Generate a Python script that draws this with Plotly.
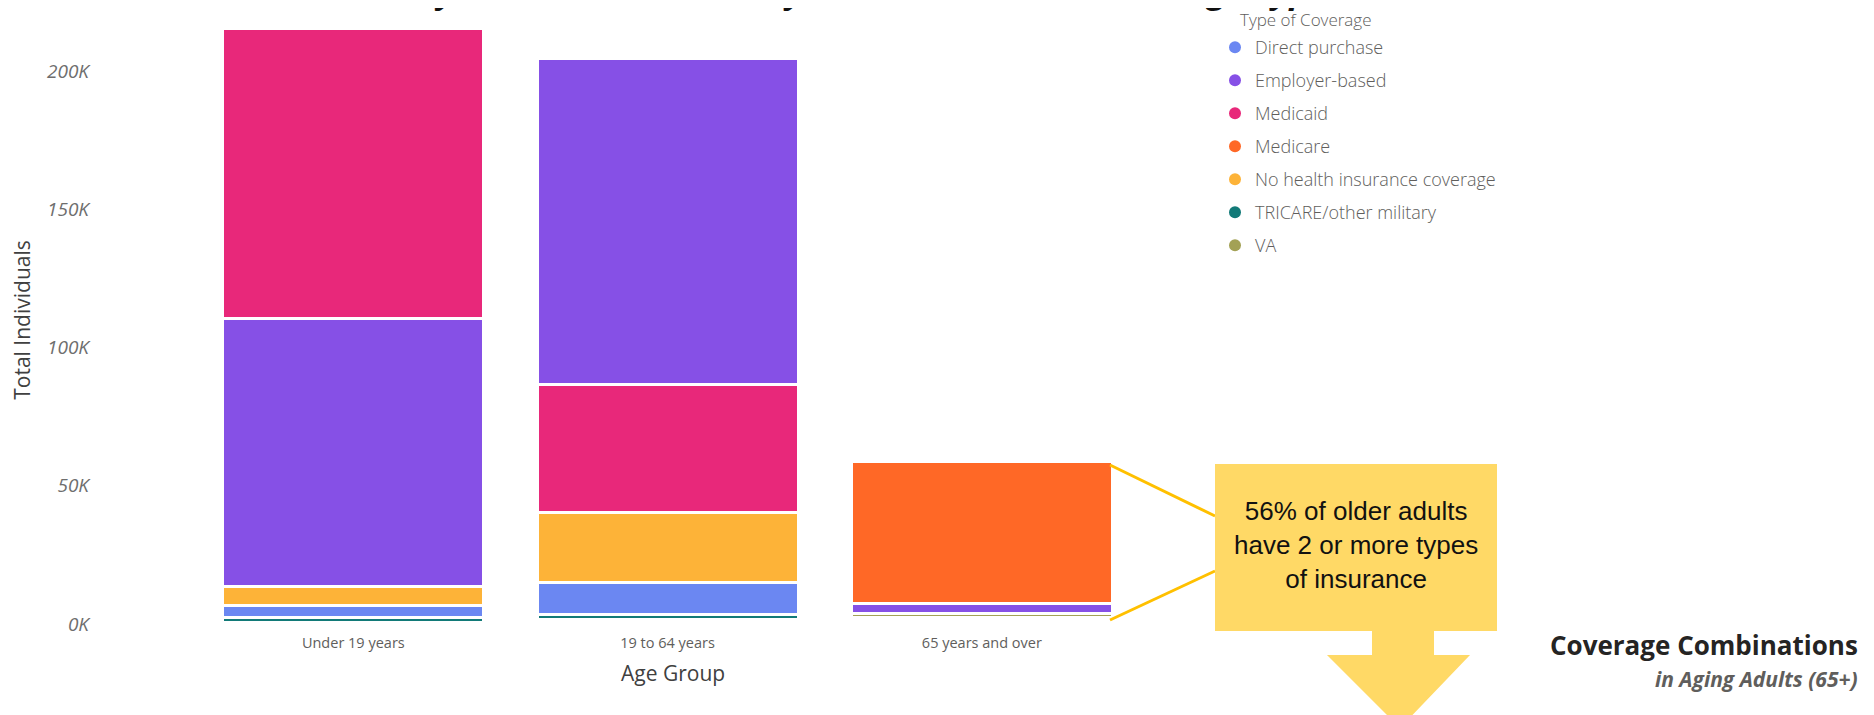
import plotly.graph_objects as go

age_groups = ["Under 19 years", "19 to 64 years", "65 years and over"]
coverage_types = ["Direct purchase", "Employer-based", "Medicaid", "Medicare",
                  "No health insurance coverage", "TRICARE/other military", "VA"]
direct_purchase = [4500, 11600, 300]
employer_based = [97200, 118000, 3500]
medicaid = [105000, 46200, 300]
medicare = [100, 900, 51300]
no_insurance = [6600, 25500, 700]
tricare = [1800, 1800, 1100]
va = [400, 600, 1500]
y_ticks = [0, 50000, 100000, 150000, 200000]
y_tick_labels = ["0K", "50K", "100K", "150K", "200K"]

colors = ["#6B87F2", "#8650E6", "#E8287A", "#FF6826", "#FDB338", "#127A78", "#A3A155"]
series = [direct_purchase, employer_based, medicaid, medicare, no_insurance, tricare, va]

# plot area in figure pixels; the page adds an 8px body margin
W, H = 1874, 715
OFF = 8
PL, PR, PT, PB = 92, 1131, 8, 616


def px(x):
    # page pixel -> paper x
    return (x - OFF - PL) / (PR - PL)


def py(y):
    # page pixel -> paper y
    return (PB - (y - OFF)) / (PB - PT)


fig = go.Figure()

# each bar is stacked smallest at the bottom, largest on top
for ci, grp in enumerate(age_groups):
    order = sorted(range(len(coverage_types)), key=lambda k: series[k][ci])
    for k in order:
        fig.add_trace(go.Bar(
            x=[grp], y=[series[k][ci]], name=coverage_types[k],
            legendgroup=coverage_types[k], showlegend=False,
            marker=dict(color=colors[k], line=dict(color="white", width=3)),
            hovertemplate=coverage_types[k] + ": %{y:,}<extra></extra>",
        ))

# round legend markers
for k, t in enumerate(coverage_types):
    fig.add_trace(go.Scatter(
        x=[None], y=[None], mode="markers", name=t, legendgroup=t,
        marker=dict(symbol="circle", size=10, color=colors[k]),
    ))

shapes = [
    # connector lines from the 65+ bar to the callout
    dict(type="line", xref="paper", yref="paper", x0=px(1110), y0=py(465), x1=px(1215), y1=py(516),
         line=dict(color="#FFC000", width=3)),
    dict(type="line", xref="paper", yref="paper", x0=px(1110), y0=py(620), x1=px(1215), y1=py(571),
         line=dict(color="#FFC000", width=3)),
    # callout box
    dict(type="rect", xref="paper", yref="paper", x0=px(1215), y0=py(464), x1=px(1497), y1=py(631),
         fillcolor="#FFD966", line=dict(width=0), layer="above"),
]
arrow = [(1372, 630), (1434, 630), (1434, 655), (1470, 655), (1400, 728), (1327, 655), (1372, 655)]
path = "M " + " L ".join(f"{px(a):.5f},{py(b):.5f}" for a, b in arrow) + " Z"
shapes.append(dict(type="path", xref="paper", yref="paper", path=path,
                   fillcolor="#FFD966", line=dict(width=0), layer="above"))

annotations = [
    dict(xref="paper", yref="paper", x=px(1356), y=py(545), xanchor="center", yanchor="middle",
         text="56% of older adults<br>have 2 or more types<br>of insurance", showarrow=False,
         font=dict(family="Liberation Sans", size=26, color="#111111"), align="center"),
    dict(xref="paper", yref="paper", x=px(1860), y=py(645), xanchor="right", yanchor="middle",
         text="<b>Coverage Combinations</b>", showarrow=False,
         font=dict(family="Open Sans", size=26, color="#252423")),
    dict(xref="paper", yref="paper", x=px(1860), y=py(679), xanchor="right", yanchor="middle",
         text="<b><i>in Aging Adults (65+)</i></b>", showarrow=False,
         font=dict(family="Open Sans", size=21, color="#605E5C")),
    dict(xref="paper", yref="paper", x=px(673), y=py(673), xanchor="center", yanchor="middle",
         text="Age Group", showarrow=False,
         font=dict(family="Open Sans", size=21, color="#404040")),
    dict(xref="paper", yref="paper", x=px(1238), y=py(19), xanchor="left", yanchor="middle",
         text="Type of Coverage", showarrow=False,
         font=dict(family="Open Sans", size=17, color="#605E5C", weight=300)),
    # chart title, mostly cut off by the top of the page
    dict(xref="paper", yref="paper", x=px(268), y=py(15), xanchor="left", yanchor="bottom",
         text="<b><i>Community Individuals Served by Health Insurance Coverage Type, 2022</i></b>",
         showarrow=False, font=dict(family="Open Sans", size=34, color="#111111")),
]

fig.update_layout(
    width=W, height=H,
    barmode="stack", bargap=0.17,
    paper_bgcolor="white", plot_bgcolor="white",
    margin=dict(l=PL, r=W - PR, t=PT, b=H - PB, autoexpand=False),
    font=dict(family="Open Sans", color="#605E5C"),
    xaxis=dict(
        type="category", categoryorder="array", categoryarray=age_groups,
        range=[-0.806, 2.5], showgrid=False, showline=False, zeroline=False,
        tickfont=dict(size=14.5, color="#605E5C"), ticklabelstandoff=8,
        automargin=False,
    ),
    yaxis=dict(
        range=[0, 220000], tickvals=y_ticks, ticktext=y_tick_labels,
        showgrid=False, showline=False, zeroline=False,
        tickfont=dict(size=19, color="#6E6E6E", style="italic"), ticklabelstandoff=10,
        title=dict(text="Total Individuals", font=dict(size=21, color="#404040"), standoff=14),
        automargin=False,
    ),
    legend=dict(
        x=px(1215), y=py(29), xanchor="left", yanchor="top",
        font=dict(size=18, color="#605E5C", weight=300), tracegroupgap=6.6,
        bgcolor="rgba(0,0,0,0)", itemsizing="constant",
    ),
    shapes=shapes,
    annotations=annotations,
)

fig.write_html("out.html")
